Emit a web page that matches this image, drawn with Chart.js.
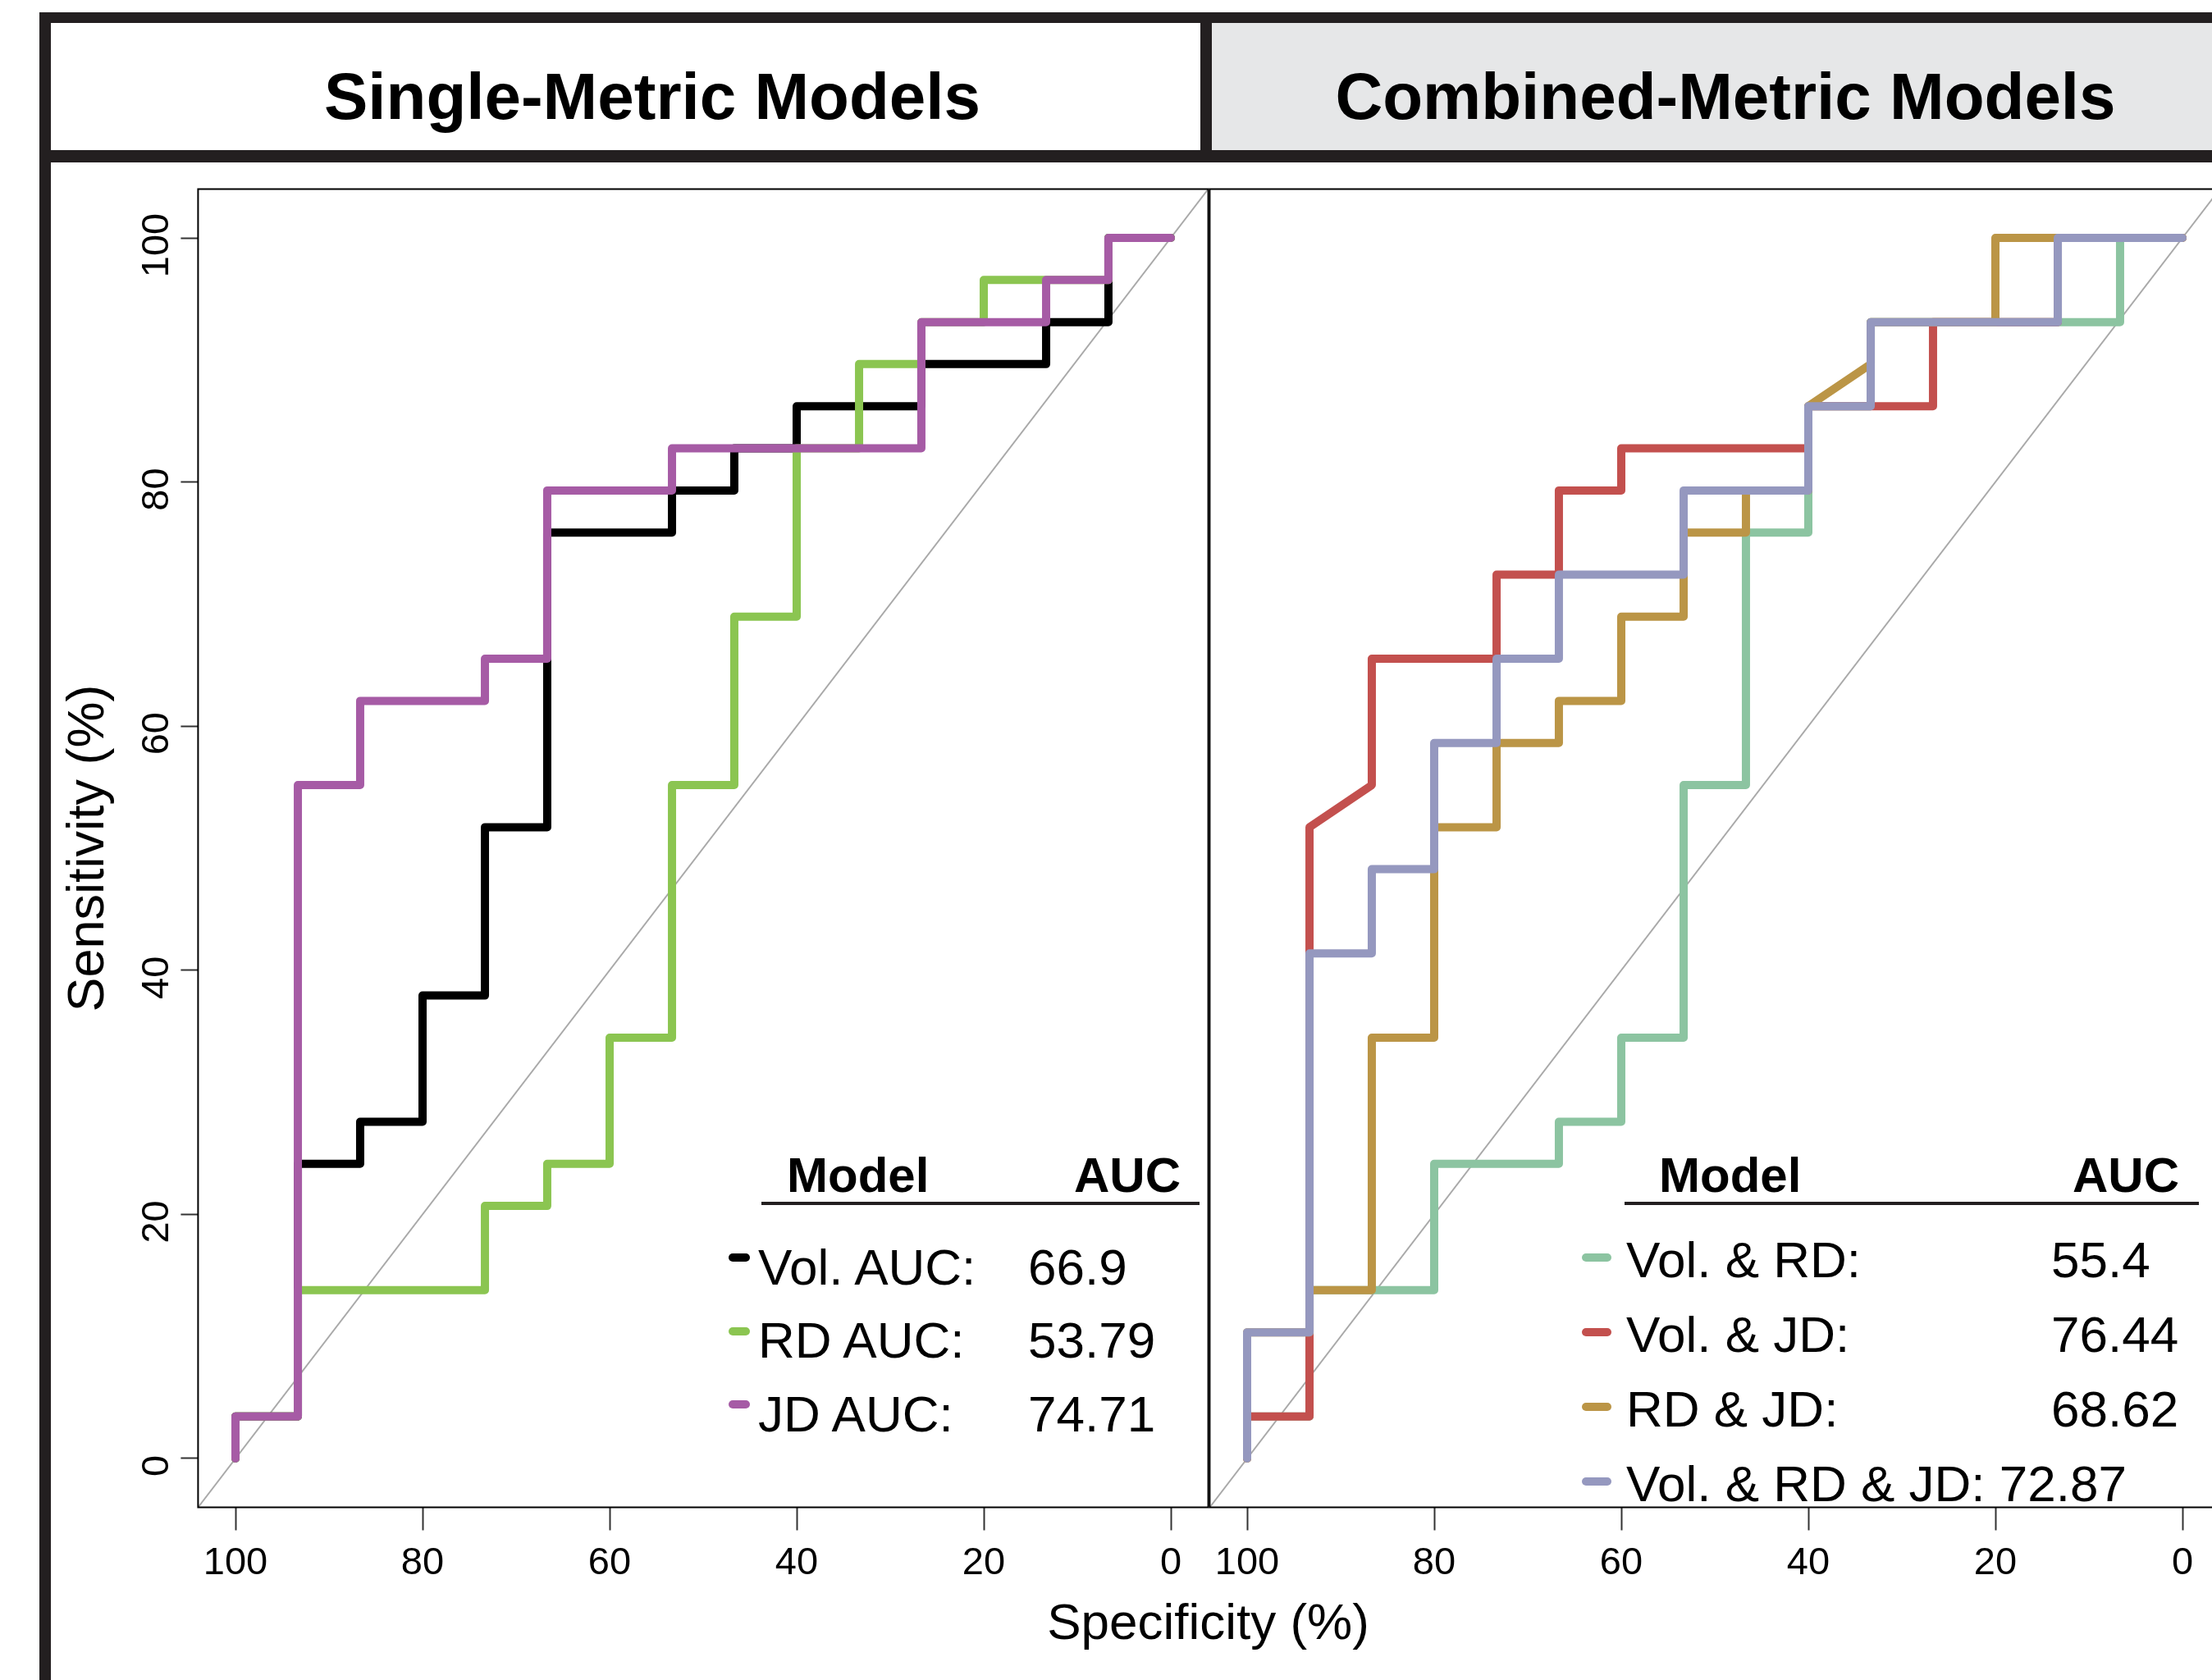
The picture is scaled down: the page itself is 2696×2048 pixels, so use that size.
<!DOCTYPE html>
<html>
<head>
<meta charset="utf-8">
<title>ROC curves</title>
<script src="https://cdn.jsdelivr.net/npm/chart.js@4.4.1/dist/chart.umd.min.js"></script>
<style>
html,body{margin:0;padding:0;background:#fff;}
#page{position:relative;width:2696px;height:2048px;overflow:hidden;background:#fff;font-family:"Liberation Sans",Arial,Helvetica,sans-serif;}
.bar{position:absolute;background:#231f20;}
.txt{position:absolute;white-space:nowrap;line-height:1;color:#000;}
.swatch{position:absolute;height:10px;border-radius:5px;}
canvas{position:absolute;}
</style>
</head>
<body>
<div id="page">
  <div class="bar" style="left:48px;top:15px;width:2648px;height:13px"></div>
  <div style="position:absolute;left:62px;top:28px;width:1401px;height:155px;background:#fff"></div>
  <div class="bar" style="left:1463px;top:28px;width:14px;height:155px"></div>
  <div style="position:absolute;left:1477px;top:28px;width:1219px;height:155px;background:#e6e7e8"></div>
  <div class="bar" style="left:48px;top:183px;width:2648px;height:15px"></div>
  <div class="bar" style="left:48px;top:15px;width:14px;height:2033px"></div>
  <canvas id="single" width="1460" height="1800" style="left:40px;top:180px"></canvas>
  <canvas id="combined" width="1340" height="1800" style="left:1400px;top:180px"></canvas>
</div>
<script>
// axis ticks (percent)
const specTicks = [100, 80, 60, 40, 20, 0];
const sensTicks = [0, 20, 40, 60, 80, 100];
const axisRange = [-4, 104];

// single-metric ROC curves: corner points, specificity % / sensitivity %
const volSpec = [100, 100, 93.33, 93.33, 86.67, 86.67, 80, 80, 73.33, 73.33, 66.67, 66.67, 53.33, 53.33, 46.67, 46.67, 40, 40, 26.67, 26.67, 13.33, 13.33, 6.67, 6.67, 0];
const volSens = [0, 3.45, 3.45, 24.14, 24.14, 27.59, 27.59, 37.93, 37.93, 51.72, 51.72, 75.86, 75.86, 79.31, 79.31, 82.76, 82.76, 86.21, 86.21, 89.66, 89.66, 93.10, 93.10, 100, 100];
const rdSpec = [100, 100, 93.33, 93.33, 73.33, 73.33, 66.67, 66.67, 60, 60, 53.33, 53.33, 46.67, 46.67, 40, 40, 33.33, 33.33, 26.67, 26.67, 20, 20, 6.67, 6.67, 0];
const rdSens = [0, 3.45, 3.45, 13.79, 13.79, 20.69, 20.69, 24.14, 24.14, 34.48, 34.48, 55.17, 55.17, 68.97, 68.97, 82.76, 82.76, 89.66, 89.66, 93.10, 93.10, 96.55, 96.55, 100, 100];
const jdSpec = [100, 100, 93.33, 93.33, 86.67, 86.67, 73.33, 73.33, 66.67, 66.67, 53.33, 53.33, 26.67, 26.67, 13.33, 13.33, 6.67, 6.67, 0];
const jdSens = [0, 3.45, 3.45, 55.17, 55.17, 62.07, 62.07, 65.52, 65.52, 79.31, 79.31, 82.76, 82.76, 93.10, 93.10, 96.55, 96.55, 100, 100];

// combined-metric ROC curves
const volRdSpec = [100, 100, 93.33, 93.33, 80, 80, 66.67, 66.67, 60, 60, 53.33, 53.33, 46.67, 46.67, 40, 40, 33.33, 33.33, 6.67, 6.67, 0];
const volRdSens = [0, 3.45, 3.45, 13.79, 13.79, 24.14, 24.14, 27.59, 27.59, 34.48, 34.48, 55.17, 55.17, 75.86, 75.86, 86.21, 86.21, 93.10, 93.10, 100, 100];
const volJdSpec = [100, 100, 93.33, 93.33, 86.67, 86.67, 73.33, 73.33, 66.67, 66.67, 60, 60, 40, 40, 26.67, 26.67, 13.33, 13.33, 0];
const volJdSens = [0, 3.45, 3.45, 51.72, 55.17, 65.52, 65.52, 72.41, 72.41, 79.31, 79.31, 82.76, 82.76, 86.21, 86.21, 93.10, 93.10, 100, 100];
const rdJdSpec = [100, 100, 93.33, 93.33, 86.67, 86.67, 80, 80, 73.33, 73.33, 66.67, 66.67, 60, 60, 53.33, 53.33, 46.67, 46.67, 40, 40, 33.33, 33.33, 20, 20, 0];
const rdJdSens = [0, 10.34, 10.34, 13.79, 13.79, 34.48, 34.48, 51.72, 51.72, 58.62, 58.62, 62.07, 62.07, 68.97, 68.97, 75.86, 75.86, 79.31, 79.31, 86.21, 89.66, 93.10, 93.10, 100, 100];
const allSpec = [100, 100, 93.33, 93.33, 86.67, 86.67, 80, 80, 73.33, 73.33, 66.67, 66.67, 53.33, 53.33, 40, 40, 33.33, 33.33, 13.33, 13.33, 0];
const allSens = [0, 10.34, 10.34, 41.38, 41.38, 48.28, 48.28, 58.62, 58.62, 65.52, 65.52, 72.41, 72.41, 79.31, 79.31, 86.21, 86.21, 93.10, 93.10, 100, 100];

// legend text
const singleNames = ['Vol. AUC:', 'RD AUC:', 'JD AUC:'];
const singleAuc = ['66.9', '53.79', '74.71'];
const comboNames = ['Vol. & RD:', 'Vol. & JD:', 'RD & JD:', 'Vol. & RD & JD:'];
const comboAuc = ['55.4', '76.44', '68.62', '72.87'];

const singleColors = ['#000000', '#8bc551', '#a65ba5'];
const comboColors = ['#8cc4a1', '#c3504e', '#bb9546', '#9598bf'];

const FONT = '"Liberation Sans", Arial, Helvetica, sans-serif';
Chart.defaults.font.family = FONT;
Chart.defaults.color = '#000';

function pts(xs, ys){
  return xs.map((x, i) => ({x: x, y: ys[i]}));
}

function curve(xs, ys, color, order){
  return {
    data: pts(xs, ys), showLine: true,
    borderColor: color, backgroundColor: color, borderWidth: 10,
    pointRadius: 0, borderCapStyle: 'round', borderJoinStyle: 'round',
    order: order
  };
}

function chanceLine(){
  return {
    data: [{x: axisRange[1], y: axisRange[0]}, {x: axisRange[0], y: axisRange[1]}],
    showLine: true, borderColor: '#a9a9a9', borderWidth: 2, pointRadius: 0, order: 99
  };
}

// plot box round the chart area
const frame = {
  id: 'frame',
  afterDatasetsDraw(chart){
    const a = chart.chartArea, ctx = chart.ctx;
    ctx.save();
    ctx.strokeStyle = '#000';
    ctx.lineWidth = 2;
    ctx.strokeRect(a.left, a.top, a.right - a.left, a.bottom - a.top);
    ctx.restore();
  }
};

function xScale(){
  return {
    type: 'linear', min: axisRange[0], max: axisRange[1], reverse: true,
    afterBuildTicks: s => { s.ticks = specTicks.map(v => ({value: v})); },
    afterFit: s => { s.height = 100; },
    grid: {drawOnChartArea: false, drawTicks: true, tickLength: 28, tickWidth: 2, tickColor: '#333'},
    border: {display: false},
    ticks: {font: {size: 47}, color: '#000', padding: 12, minRotation: 0, maxRotation: 0, autoSkip: false, callback: v => String(v)}
  };
}

function makeChart(id, datasets, yScale, pad){
  return new Chart(document.getElementById(id), {
    type: 'scatter',
    data: {datasets: datasets},
    options: {
      responsive: false, animation: false,
      layout: {padding: pad},
      plugins: {legend: {display: false}, tooltip: {enabled: false}},
      scales: {x: xScale(), y: yScale}
    },
    plugins: [frame]
  });
}

makeChart('single', [
  chanceLine(),
  curve(volSpec, volSens, singleColors[0], 3),
  curve(rdSpec, rdSens, singleColors[1], 2),
  curve(jdSpec, jdSens, singleColors[2], 1)
], {
  type: 'linear', min: axisRange[0], max: axisRange[1],
  afterBuildTicks: s => { s.ticks = sensTicks.map(v => ({value: v})); },
  afterFit: s => { s.width = 201.4; },
  grid: {drawOnChartArea: false, drawTicks: true, tickLength: 21, tickWidth: 2, tickColor: '#333'},
  border: {display: false},
  ticks: {font: {size: 47}, color: '#000', padding: -11, minRotation: 90, maxRotation: 90,
          crossAlign: 'center', labelOffset: 9, autoSkip: false, callback: v => String(v)},
  title: {display: true, text: 'Sensitivity (%)', font: {size: 63}, color: '#000', padding: {top: 30.7, bottom: 0}}
}, {left: 0, right: 27.4, top: 50.5, bottom: 42.5});

makeChart('combined', [
  chanceLine(),
  curve(volRdSpec, volRdSens, comboColors[0], 4),
  curve(volJdSpec, volJdSens, comboColors[1], 3),
  curve(rdJdSpec, rdJdSens, comboColors[2], 2),
  curve(allSpec, allSens, comboColors[3], 1)
], {
  type: 'linear', min: axisRange[0], max: axisRange[1], display: false
}, {left: 74.4, right: 34.4, top: 50.5, bottom: 42.5});

// text laid out by baseline
const page = document.getElementById('page');
function addText(str, x, base, size, bold, center){
  const d = document.createElement('div');
  d.className = 'txt';
  d.textContent = str;
  d.style.fontSize = size + 'px';
  d.style.fontWeight = bold ? 'bold' : 'normal';
  d.style.top = (base - 0.8465 * size) + 'px';
  d.style.left = x + 'px';
  if (center) d.style.transform = 'translateX(-50%)';
  page.appendChild(d);
}
function addBox(cls, x, y, w, h, color){
  const d = document.createElement('div');
  d.className = cls;
  d.style.left = x + 'px'; d.style.top = y + 'px';
  d.style.width = w + 'px'; d.style.height = h + 'px';
  d.style.background = color;
  page.appendChild(d);
}

addText('Single-Metric Models', 795, 146, 80, true, true);
addText('Combined-Metric Models', 2103, 146, 80, true, true);
addText('Specificity (%)', 1472.5, 1998, 62, false, true);

// left legend
addText('Model', 959, 1454, 60, true);
addText('AUC', 1374, 1454, 60, true, true);
addBox('bar', 928, 1465, 534, 4, '#231f20');
singleNames.forEach((name, i) => {
  const base = 1566 + i * 89.5;
  addBox('swatch', 888, base - 38, 26, 10, singleColors[i]);
  addText(name, 924, base, 62);
  addText(singleAuc[i], 1253, base, 62);
});

// right legend
addText('Model', 2022, 1454, 60, true);
addText('AUC', 2591, 1454, 60, true, true);
addBox('bar', 1980, 1465, 700, 4, '#231f20');
comboNames.forEach((name, i) => {
  const base = 1557 + i * 91;
  addBox('swatch', 1928, base - 29, 36, 10, comboColors[i]);
  if (i === comboNames.length - 1) {
    addText(name + ' ' + comboAuc[i], 1982, base, 62);
  } else {
    addText(name, 1982, base, 62);
    addText(comboAuc[i], 2500, base, 62);
  }
});
</script>
</body>
</html>
